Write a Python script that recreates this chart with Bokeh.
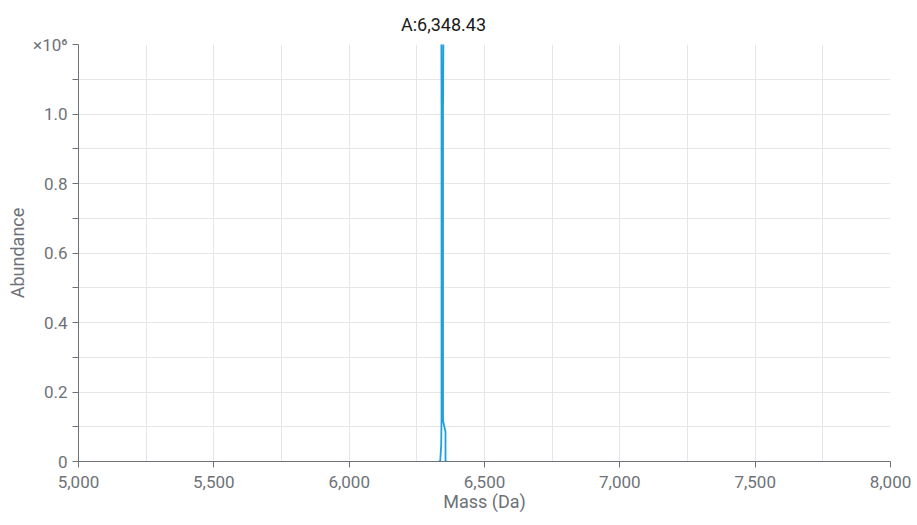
from bokeh.plotting import figure
from bokeh.models import Range1d, FixedTicker, LinearAxis, ColumnDataSource
from bokeh.embed import file_html
from bokeh.resources import INLINE

# ---- data ----
mass = [6330.0, 6336.3, 6340.0, 6341.2, 6341.3, 6339.5, 6343.5, 6348.43, 6351.5, 6346.7, 6346.7, 6355.9, 6355.9, 6362.0]
abundance = [0, 0, 47000, 120000, 1010000, 1600000, 1700000, 2000000, 1700000, 1010000, 118000, 85000, 0, 0]

peak_mass = 6348.43
peak_label = "A:6,348.43"

x_ticks = [5000, 5500, 6000, 6500, 7000, 7500, 8000]
x_tick_labels = ["5,000", "5,500", "6,000", "6,500", "7,000", "7,500", "8,000"]
x_grid = [5000, 5250, 5500, 5750, 6000, 6250, 6500, 6750, 7000, 7250, 7500, 7750, 8000]

y_ticks = [0, 200000, 400000, 600000, 800000, 1000000, 1200000]
y_tick_labels = ["0", "0.2", "0.4", "0.6", "0.8", "1.0", "×10⁶"]
y_minor = [100000, 300000, 500000, 700000, 900000, 1100000]
y_grid = [0, 100000, 200000, 300000, 400000, 500000, 600000, 700000, 800000, 900000, 1000000, 1100000, 1200000]

FONT = "Roboto"
GREY = "#6e7278"

p = figure(width=917, height=525, output_backend="svg", toolbar_location=None,
           x_range=Range1d(5000, 8000), y_range=Range1d(0, 1200000))
p.min_border_left = 78
p.min_border_right = 27
p.min_border_top = 44
p.min_border_bottom = 64
p.outline_line_color = None
p.background_fill_color = "white"
p.border_fill_color = "white"

src = ColumnDataSource(dict(mass=mass, abundance=abundance))
p.line("mass", "abundance", source=src, line_color="#1f9fdc", line_width=1.8)

# axes
xa = p.xaxis[0]
xa.ticker = FixedTicker(ticks=x_ticks, minor_ticks=[])
xa.major_label_overrides = {t: l for t, l in zip(x_ticks, x_tick_labels)}
xa.axis_label = "Mass (Da)"
ya = p.yaxis[0]
ya.ticker = FixedTicker(ticks=y_ticks, minor_ticks=y_minor)
ya.major_label_overrides = {t: l for t, l in zip(y_ticks, y_tick_labels)}
ya.axis_label = "Abundance"

for ax in (xa, ya):
    ax.axis_line_color = GREY
    ax.axis_line_width = 1
    ax.major_tick_line_color = GREY
    ax.minor_tick_line_color = GREY
    ax.major_tick_out = 6
    ax.major_tick_in = 0
    ax.minor_tick_out = 6
    ax.minor_tick_in = 0
    ax.major_label_text_font = FONT
    ax.major_label_text_font_size = "17px"
    ax.major_label_text_color = GREY
    ax.axis_label_text_font = FONT
    ax.axis_label_text_font_size = "18px"
    ax.axis_label_text_font_style = "normal"
    ax.axis_label_text_color = GREY
xa.major_label_standoff = 8
xa.axis_label_standoff = 0
ya.major_label_standoff = 5
ya.axis_label_standoff = 2

# peak annotation as a top axis label (kept as real text)
top = LinearAxis(ticker=FixedTicker(ticks=[peak_mass], minor_ticks=[]),
                 major_label_overrides={peak_mass: peak_label})
top.axis_line_color = None
top.major_tick_line_color = None
top.minor_tick_line_color = None
top.major_tick_out = 0
top.major_tick_in = 0
top.major_label_standoff = 10
top.major_label_text_font = FONT
top.major_label_text_font_size = "18px"
top.major_label_text_color = "#1a1a1a"
p.add_layout(top, "above")

p.xgrid.ticker = FixedTicker(ticks=x_grid)
p.ygrid.ticker = FixedTicker(ticks=y_grid)
p.xgrid.grid_line_color = "#e6e6e6"
p.ygrid.grid_line_color = "#e6e6e6"

open("out.html", "w").write(file_html(p, INLINE))
